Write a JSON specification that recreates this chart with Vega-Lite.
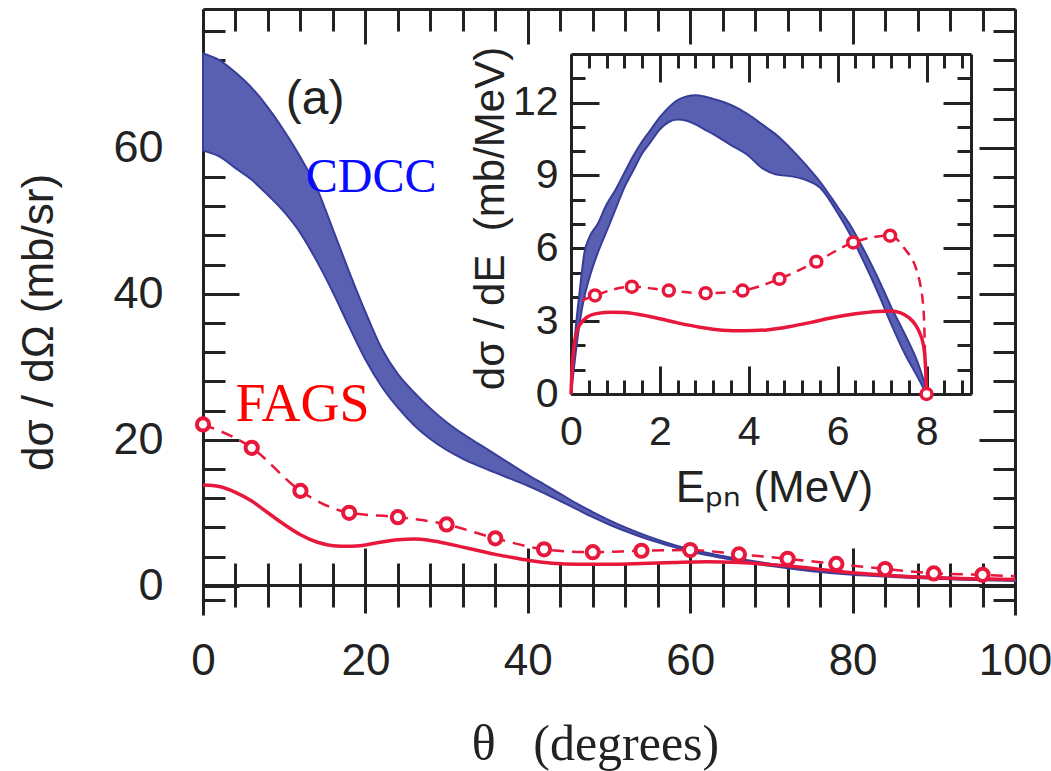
{
  "$schema": "https://vega.github.io/schema/vega-lite/v6.json",
  "width": 812,
  "height": 606,
  "autosize": {"type": "none"},
  "padding": {"left": 203, "top": 9, "right": 36, "bottom": 156},
  "background": "white",
  "config": {
    "view": {"stroke": null},
    "axis": {
      "zindex": 1, "grid": false,
      "domainColor": "#222222", "tickColor": "#222222", "domainWidth": 3, "tickWidth": 3,
      "labelColor": "#222222", "titleColor": "#222222",
      "labelFont": "Liberation Sans", "titleFont": "Liberation Sans", "titleFontWeight": "normal",
      "labelOverlap": false, "labelFlush": false, "labelBound": false
    }
  },
  "datasets": {
    "mainBand": [
      {"x": 0, "lo": 59.6, "hi": 72.9}, {"x": 2, "lo": 58.8, "hi": 72.0}, {"x": 4, "lo": 57.2, "hi": 70.3},
      {"x": 6, "lo": 55.6, "hi": 68.2}, {"x": 8, "lo": 53.5, "hi": 65.5}, {"x": 10, "lo": 51.2, "hi": 62.3},
      {"x": 12, "lo": 48.3, "hi": 58.7}, {"x": 14, "lo": 44.5, "hi": 54.5}, {"x": 16, "lo": 40.2, "hi": 48.8},
      {"x": 18, "lo": 35.5, "hi": 43.0}, {"x": 20, "lo": 31.0, "hi": 37.5}, {"x": 22, "lo": 27.3, "hi": 32.5},
      {"x": 24, "lo": 24.4, "hi": 29.0}, {"x": 26, "lo": 22.0, "hi": 26.5}, {"x": 28, "lo": 20.1, "hi": 24.3},
      {"x": 30, "lo": 18.6, "hi": 22.4}, {"x": 32, "lo": 17.4, "hi": 20.8}, {"x": 34, "lo": 16.4, "hi": 19.4},
      {"x": 36, "lo": 15.5, "hi": 18.0}, {"x": 38, "lo": 14.6, "hi": 16.6}, {"x": 40, "lo": 13.7, "hi": 15.2},
      {"x": 42, "lo": 12.7, "hi": 13.9}, {"x": 44, "lo": 11.6, "hi": 12.6}, {"x": 46, "lo": 10.5, "hi": 11.3},
      {"x": 48, "lo": 9.4, "hi": 10.1}, {"x": 50, "lo": 8.4, "hi": 9.0}, {"x": 52, "lo": 7.5, "hi": 8.0},
      {"x": 55, "lo": 6.3, "hi": 6.7}, {"x": 58, "lo": 5.3, "hi": 5.6}, {"x": 60, "lo": 4.7, "hi": 5.0},
      {"x": 63, "lo": 4.0, "hi": 4.3}, {"x": 66, "lo": 3.4, "hi": 3.7}, {"x": 70, "lo": 2.7, "hi": 3.0},
      {"x": 75, "lo": 2.0, "hi": 2.3}, {"x": 80, "lo": 1.5, "hi": 1.8}, {"x": 85, "lo": 1.2, "hi": 1.45},
      {"x": 90, "lo": 0.95, "hi": 1.2}, {"x": 95, "lo": 0.8, "hi": 1.0}, {"x": 100, "lo": 0.65, "hi": 0.85}
    ],
    "mainSolid": [
      {"x": 0, "y": 13.8}, {"x": 2, "y": 13.6}, {"x": 4, "y": 12.8}, {"x": 6, "y": 11.6}, {"x": 8, "y": 10.0},
      {"x": 10, "y": 8.4}, {"x": 12, "y": 7.0}, {"x": 14, "y": 6.0}, {"x": 16, "y": 5.5}, {"x": 18, "y": 5.4},
      {"x": 20, "y": 5.6}, {"x": 22, "y": 6.0}, {"x": 24, "y": 6.3}, {"x": 26, "y": 6.4}, {"x": 28, "y": 6.2},
      {"x": 30, "y": 5.8}, {"x": 32, "y": 5.3}, {"x": 34, "y": 4.8}, {"x": 36, "y": 4.3}, {"x": 38, "y": 3.9},
      {"x": 40, "y": 3.5}, {"x": 43, "y": 3.1}, {"x": 46, "y": 2.95}, {"x": 50, "y": 2.95}, {"x": 54, "y": 3.05},
      {"x": 58, "y": 3.2}, {"x": 62, "y": 3.3}, {"x": 66, "y": 3.2}, {"x": 70, "y": 2.9}, {"x": 74, "y": 2.5},
      {"x": 78, "y": 2.0}, {"x": 82, "y": 1.6}, {"x": 86, "y": 1.3}, {"x": 90, "y": 1.1}, {"x": 95, "y": 0.95},
      {"x": 100, "y": 0.85}
    ],
    "mainDashed": [
      {"x": 0, "y": 22.1, "pt": true}, {"x": 6, "y": 18.9, "pt": true}, {"x": 12, "y": 13.0, "pt": true},
      {"x": 18, "y": 10.0, "pt": true}, {"x": 24, "y": 9.4, "pt": true}, {"x": 30, "y": 8.4, "pt": true},
      {"x": 36, "y": 6.5, "pt": true}, {"x": 42, "y": 5.0, "pt": true}, {"x": 48, "y": 4.6, "pt": true},
      {"x": 54, "y": 4.8, "pt": true}, {"x": 60, "y": 4.9, "pt": true}, {"x": 66, "y": 4.3, "pt": true},
      {"x": 72, "y": 3.7, "pt": true}, {"x": 78, "y": 3.0, "pt": true}, {"x": 84, "y": 2.3, "pt": true},
      {"x": 90, "y": 1.7, "pt": true}, {"x": 96, "y": 1.5, "pt": true}, {"x": 100, "y": 1.3, "pt": false}
    ],
    "mainNotes": [
      {"x": 13.8, "y": 66.5, "text": "(a)", "kind": "a"},
      {"x": 20.7, "y": 55.8, "text": "CDCC", "kind": "cdcc"},
      {"x": 12.25, "y": 24.7, "text": "FAGS", "kind": "fags"}
    ],
    "insetBand": [
      {"x": 0, "lo": 0, "hi": 0.2}, {"x": 0.05, "lo": 0.8, "hi": 1.5}, {"x": 0.1, "lo": 1.6, "hi": 2.6},
      {"x": 0.2, "lo": 3.0, "hi": 4.3}, {"x": 0.3, "lo": 4.0, "hi": 5.8}, {"x": 0.4, "lo": 4.7, "hi": 6.4},
      {"x": 0.6, "lo": 5.8, "hi": 7.0}, {"x": 0.8, "lo": 6.7, "hi": 7.8}, {"x": 1.0, "lo": 7.6, "hi": 8.4},
      {"x": 1.2, "lo": 8.5, "hi": 9.1}, {"x": 1.4, "lo": 9.2, "hi": 9.8}, {"x": 1.6, "lo": 9.9, "hi": 10.4},
      {"x": 1.8, "lo": 10.4, "hi": 10.9}, {"x": 2.0, "lo": 10.9, "hi": 11.4}, {"x": 2.2, "lo": 11.2, "hi": 11.8},
      {"x": 2.4, "lo": 11.3, "hi": 12.1}, {"x": 2.6, "lo": 11.25, "hi": 12.25}, {"x": 2.8, "lo": 11.1, "hi": 12.3},
      {"x": 3.0, "lo": 10.9, "hi": 12.25}, {"x": 3.2, "lo": 10.7, "hi": 12.15}, {"x": 3.6, "lo": 10.25, "hi": 11.9},
      {"x": 4.0, "lo": 9.8, "hi": 11.5}, {"x": 4.3, "lo": 9.3, "hi": 11.1}, {"x": 4.6, "lo": 9.05, "hi": 10.7},
      {"x": 5.0, "lo": 8.95, "hi": 10.0}, {"x": 5.3, "lo": 8.8, "hi": 9.4}, {"x": 5.6, "lo": 8.5, "hi": 8.75},
      {"x": 6.0, "lo": 7.45, "hi": 7.7}, {"x": 6.3, "lo": 6.5, "hi": 6.9}, {"x": 6.6, "lo": 5.4, "hi": 5.9},
      {"x": 6.9, "lo": 4.2, "hi": 4.8}, {"x": 7.2, "lo": 2.9, "hi": 3.6}, {"x": 7.5, "lo": 1.7, "hi": 2.5},
      {"x": 7.8, "lo": 0.7, "hi": 1.3}, {"x": 8.0, "lo": 0, "hi": 0.2}
    ],
    "insetSolid": [
      {"x": 0, "y": 0}, {"x": 0.03, "y": 1.2}, {"x": 0.07, "y": 2.0}, {"x": 0.12, "y": 2.5}, {"x": 0.2, "y": 2.85},
      {"x": 0.35, "y": 3.15}, {"x": 0.6, "y": 3.32}, {"x": 0.9, "y": 3.37}, {"x": 1.2, "y": 3.36}, {"x": 1.6, "y": 3.25},
      {"x": 2.0, "y": 3.1}, {"x": 2.4, "y": 2.93}, {"x": 2.9, "y": 2.75}, {"x": 3.4, "y": 2.63}, {"x": 3.9, "y": 2.6},
      {"x": 4.4, "y": 2.64}, {"x": 4.9, "y": 2.77}, {"x": 5.4, "y": 2.95}, {"x": 5.9, "y": 3.15}, {"x": 6.4, "y": 3.3},
      {"x": 6.9, "y": 3.4}, {"x": 7.2, "y": 3.42}, {"x": 7.4, "y": 3.35}, {"x": 7.6, "y": 3.15}, {"x": 7.75, "y": 2.85},
      {"x": 7.85, "y": 2.5}, {"x": 7.92, "y": 2.1}, {"x": 7.96, "y": 1.6}, {"x": 7.98, "y": 1.0}, {"x": 8.0, "y": 0}
    ],
    "insetDashed": [
      {"x": 0.25, "y": 3.85, "pt": false}, {"x": 0.54, "y": 4.06, "pt": true}, {"x": 1.37, "y": 4.42, "pt": true},
      {"x": 2.2, "y": 4.26, "pt": true}, {"x": 3.03, "y": 4.15, "pt": true}, {"x": 3.86, "y": 4.26, "pt": true},
      {"x": 4.69, "y": 4.74, "pt": true}, {"x": 5.52, "y": 5.45, "pt": true}, {"x": 6.35, "y": 6.24, "pt": true},
      {"x": 7.18, "y": 6.52, "pt": true}, {"x": 7.5, "y": 6.0, "pt": false}, {"x": 7.8, "y": 4.95, "pt": false},
      {"x": 7.86, "y": 4.5, "pt": false}, {"x": 7.94, "y": 3.2, "pt": false}, {"x": 7.97, "y": 1.4, "pt": false},
      {"x": 8.0, "y": 0.0, "pt": true}
    ]
  },
  "layer": [
    {
      "layer": [
        {
          "data": {"name": "mainBand"},
          "mark": {"type": "area", "fill": "#5a60b1", "stroke": "#383d9a", "strokeWidth": 2, "interpolate": "monotone"},
          "encoding": {
            "x": {"field": "x", "type": "quantitative",
              "scale": {"domain": [0, 100], "nice": false, "zero": false},
              "axis": {"orient": "bottom", "offset": -30, "labels": false, "title": null,
                "values": [0,4,8,12,16,20,24,28,32,36,40,44,48,52,56,60,64,68,72,76,80,84,88,92,96,100],
                "tickSize": {"condition": {"test": "datum.value % 20 === 0", "value": -37}, "value": -22}}},
            "y": {"field": "lo", "type": "quantitative",
              "scale": {"domain": [-4, 79], "nice": false, "zero": false},
              "axis": {"orient": "left",
                "values": [-2,0,4,8,12,16,20,24,28,32,36,40,44,48,52,56,60,64,68,72,76],
                "tickSize": {"condition": {"test": "datum.value % 20 === 0", "value": -36}, "value": -22},
                "labelExpr": "datum.value % 20 === 0 ? datum.label : ''",
                "labelFontSize": 45, "labelPadding": 76, "labelBaseline": "middle",
                "title": "dσ / dΩ (mb/sr)", "titleFontSize": 44, "titleAngle": -90,
                "titleX": -164, "titleY": 313, "titleBaseline": "middle", "titleAlign": "center"}},
            "y2": {"field": "hi"}
          }
        },
        {
          "data": {"name": "mainSolid"},
          "mark": {"type": "line", "color": "#e8173c", "strokeWidth": 3.5, "interpolate": "monotone"},
          "encoding": {
            "x": {"field": "x", "type": "quantitative",
              "scale": {"domain": [0, 100], "nice": false, "zero": false},
              "axis": {"orient": "bottom", "offset": -30, "domain": false,
                "values": [0,4,8,12,16,20,24,28,32,36,40,44,48,52,56,60,64,68,72,76,80,84,88,92,96,100],
                "tickSize": {"condition": {"test": "datum.value % 20 === 0", "value": 28}, "value": 22},
                "labelExpr": "datum.value % 20 === 0 ? datum.label : ''",
                "labelFontSize": 44, "labelPadding": 26, "labelBaseline": "top",
                "title": "θ\u00a0\u00a0\u00a0(degrees)", "titleFont": "Liberation Serif", "titleFontSize": 50,
                "titleX": 392, "titleY": 174, "titleBaseline": "alphabetic", "titleAlign": "center"}},
            "y": {"field": "y", "type": "quantitative",
              "scale": {"domain": [-4, 79], "nice": false, "zero": false},
              "axis": {"orient": "right", "labels": false, "title": null,
                "values": [-2,0,4,8,12,16,20,24,28,32,36,40,44,48,52,56,60,64,68,72,76],
                "tickSize": {"condition": {"test": "datum.value % 20 === 0", "value": -36}, "value": -22}}}
          }
        },
        {
          "data": {"name": "mainDashed"},
          "mark": {"type": "line", "color": "#e8173c", "strokeWidth": 2.5, "strokeDash": [12, 8], "interpolate": "monotone"},
          "encoding": {
            "x": {"field": "x", "type": "quantitative",
              "scale": {"domain": [0, 100], "nice": false, "zero": false},
              "axis": {"orient": "top", "labels": false, "title": null,
                "values": [0,4,8,12,16,20,24,28,32,36,40,44,48,52,56,60,64,68,72,76,80,84,88,92,96,100],
                "tickSize": {"condition": {"test": "datum.value % 20 === 0", "value": -35}, "value": -22}}},
            "y": {"field": "y", "type": "quantitative", "scale": {"domain": [-4, 79], "nice": false, "zero": false}, "axis": null}
          }
        },
        {
          "data": {"name": "mainDashed"},
          "transform": [{"filter": "datum.pt"}],
          "mark": {"type": "point", "shape": "circle", "filled": false, "fill": "white", "fillOpacity": 1, "stroke": "#e8173c", "strokeWidth": 4, "size": 150, "opacity": 1},
          "encoding": {
            "x": {"field": "x", "type": "quantitative", "scale": {"domain": [0, 100], "nice": false, "zero": false}, "axis": null},
            "y": {"field": "y", "type": "quantitative", "scale": {"domain": [-4, 79], "nice": false, "zero": false}, "axis": null}
          }
        },
        {
          "data": {"name": "mainNotes"},
          "transform": [{"filter": "datum.kind === 'a'"}],
          "mark": {"type": "text", "font": "Liberation Sans", "fontSize": 48, "color": "#222222", "align": "center", "baseline": "middle"},
          "encoding": {
            "x": {"field": "x", "type": "quantitative", "scale": {"domain": [0, 100], "nice": false, "zero": false}, "axis": null},
            "y": {"field": "y", "type": "quantitative", "scale": {"domain": [-4, 79], "nice": false, "zero": false}, "axis": null},
            "text": {"field": "text"}
          }
        },
        {
          "data": {"name": "mainNotes"},
          "transform": [{"filter": "datum.kind === 'cdcc'"}],
          "mark": {"type": "text", "font": "Liberation Serif", "fontSize": 48, "color": "#0a0aff", "align": "center", "baseline": "middle"},
          "encoding": {
            "x": {"field": "x", "type": "quantitative", "scale": {"domain": [0, 100], "nice": false, "zero": false}, "axis": null},
            "y": {"field": "y", "type": "quantitative", "scale": {"domain": [-4, 79], "nice": false, "zero": false}, "axis": null},
            "text": {"field": "text"}
          }
        },
        {
          "data": {"name": "mainNotes"},
          "transform": [{"filter": "datum.kind === 'fags'"}],
          "mark": {"type": "text", "font": "Liberation Serif", "fontSize": 54, "color": "#ff0000", "align": "center", "baseline": "middle"},
          "encoding": {
            "x": {"field": "x", "type": "quantitative", "scale": {"domain": [0, 100], "nice": false, "zero": false}, "axis": null},
            "y": {"field": "y", "type": "quantitative", "scale": {"domain": [-4, 79], "nice": false, "zero": false}, "axis": null},
            "text": {"field": "text"}
          }
        }
      ],
      "resolve": {"axis": {"x": "independent", "y": "independent"}}
    },
    {
      "layer": [
        {
          "data": {"name": "insetBand"},
          "mark": {"type": "area", "fill": "#5a60b1", "stroke": "#383d9a", "strokeWidth": 2, "interpolate": "monotone"},
          "encoding": {
            "x": {"field": "x", "type": "quantitative",
              "scale": {"domain": [0, 9], "range": [368, 768], "nice": false, "zero": false},
              "axis": {"orient": "bottom", "offset": -221,
                "values": [0,0.4,0.8,1.2,1.6,2,2.4,2.8,3.2,3.6,4,4.4,4.8,5.2,5.6,6,6.4,6.8,7.2,7.6,8,8.4,8.8],
                "tickSize": {"condition": {"test": "datum.value % 2 === 0", "value": -28}, "value": -14},
                "labelExpr": "datum.value % 2 === 0 ? format(datum.value, 'd') : ''",
                "labelFontSize": 41, "labelPadding": 46, "labelBaseline": "top",
                "title": "Eₚₙ (MeV)", "titleFontSize": 44,
                "titleX": 571, "titleY": 107, "titleBaseline": "alphabetic", "titleAlign": "center"}},
            "y": {"field": "lo", "type": "quantitative",
              "scale": {"domain": [0, 14], "range": [385, 45], "nice": false, "zero": false},
              "axis": {"orient": "left", "offset": -368,
                "values": [0,1,2,3,4,5,6,7,8,9,10,11,12,13],
                "tickSize": {"condition": {"test": "datum.value % 3 === 0", "value": -28}, "value": -14},
                "labelExpr": "datum.value % 3 === 0 ? format(datum.value, 'd') : ''",
                "labelFontSize": 41, "labelPadding": 41, "labelBaseline": "middle",
                "title": "dσ / dE\u00a0\u00a0(mb/MeV)", "titleFontSize": 42, "titleAngle": -90,
                "titleX": -81, "titleY": 209, "titleBaseline": "middle", "titleAlign": "center"}},
            "y2": {"field": "hi"}
          }
        },
        {
          "data": {"name": "insetSolid"},
          "mark": {"type": "line", "color": "#e8173c", "strokeWidth": 3.5, "interpolate": "monotone"},
          "encoding": {
            "x": {"field": "x", "type": "quantitative",
              "scale": {"domain": [0, 9], "range": [368, 768], "nice": false, "zero": false},
              "axis": {"orient": "top", "offset": -45, "labels": false, "title": null,
                "values": [0,0.4,0.8,1.2,1.6,2,2.4,2.8,3.2,3.6,4,4.4,4.8,5.2,5.6,6,6.4,6.8,7.2,7.6,8,8.4,8.8],
                "tickSize": {"condition": {"test": "datum.value % 2 === 0", "value": -28}, "value": -14}}},
            "y": {"field": "y", "type": "quantitative",
              "scale": {"domain": [0, 14], "range": [385, 45], "nice": false, "zero": false},
              "axis": {"orient": "right", "offset": -44, "labels": false, "title": null,
                "values": [0,1,2,3,4,5,6,7,8,9,10,11,12,13],
                "tickSize": {"condition": {"test": "datum.value % 3 === 0", "value": -28}, "value": -14}}}
          }
        },
        {
          "data": {"name": "insetDashed"},
          "mark": {"type": "line", "color": "#e8173c", "strokeWidth": 2.5, "strokeDash": [10, 7], "interpolate": "monotone"},
          "encoding": {
            "x": {"field": "x", "type": "quantitative", "scale": {"domain": [0, 9], "range": [368, 768], "nice": false, "zero": false}, "axis": null},
            "y": {"field": "y", "type": "quantitative", "scale": {"domain": [0, 14], "range": [385, 45], "nice": false, "zero": false}, "axis": null}
          }
        },
        {
          "data": {"name": "insetDashed"},
          "transform": [{"filter": "datum.pt"}],
          "mark": {"type": "point", "shape": "circle", "filled": false, "fill": "white", "fillOpacity": 1, "stroke": "#e8173c", "strokeWidth": 3.5, "size": 120, "opacity": 1},
          "encoding": {
            "x": {"field": "x", "type": "quantitative", "scale": {"domain": [0, 9], "range": [368, 768], "nice": false, "zero": false}, "axis": null},
            "y": {"field": "y", "type": "quantitative", "scale": {"domain": [0, 14], "range": [385, 45], "nice": false, "zero": false}, "axis": null}
          }
        }
      ],
      "resolve": {"axis": {"x": "independent", "y": "independent"}}
    }
  ],
  "resolve": {"scale": {"x": "independent", "y": "independent"}, "axis": {"x": "independent", "y": "independent"}}
}
